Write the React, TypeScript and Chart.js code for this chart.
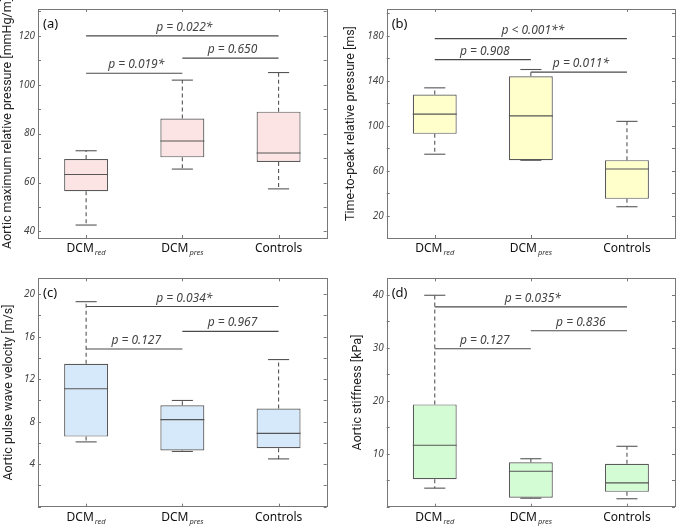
import React, { useEffect, useRef } from "react";
import { Chart, registerables } from "chart.js";
Chart.register(...registerables);

const categories = ["DCM", "DCM", "Controls"];
const categorySubscripts = ["red", "pres", ""];

// (a) Aortic maximum relative pressure
const aWhiskerLow = [42.6, 65.5, 57.4];
const aQ1 = [56.4, 70.3, 68.4];
const aMedian = [63.3, 77.0, 72.1];
const aQ3 = [69.6, 86.2, 89.0];
const aWhiskerHigh = [73.0, 101.9, 105.0];
const aTicks = [40, 60, 80, 100, 120];
const aMinorStep = 10;
const aRange = [37.3, 131];
const aPTexts = ["p = 0.022*", "p = 0.650", "p = 0.019*"];
const aPLevels = [120, 110.9, 104.7];
const aPFrom = [0, 1, 0];
const aPTo = [2, 2, 1];

// (b) Time-to-peak relative pressure
const bWhiskerLow = [74.9, 69.5, 28.2];
const bQ1 = [93.0, 69.6, 35.2];
const bMedian = [110.5, 109.0, 61.8];
const bQ3 = [128.0, 144.1, 69.6];
const bWhiskerHigh = [133.9, 150.2, 104.1];
const bTicks = [20, 60, 100, 140, 180];
const bMinorStep = 20;
const bRange = [0.4, 204];
const bPTexts = ["p < 0.001**", "p = 0.908", "p = 0.011*"];
const bPLevels = [177.7, 159.0, 147.9];
const bPFrom = [0, 0, 1];
const bPTo = [2, 1, 2];

// (c) Aortic pulse wave velocity
const cWhiskerLow = [6.1, 5.2, 4.5];
const cQ1 = [6.6, 5.3, 5.5];
const cMedian = [11.1, 8.2, 6.9];
const cQ3 = [13.45, 9.55, 9.25];
const cWhiskerHigh = [19.3, 10.0, 13.85];
const cTicks = [4, 8, 12, 16, 20];
const cMinorStep = 2;
const cRange = [0, 21.5];
const cPTexts = ["p = 0.034*", "p = 0.967", "p = 0.127"];
const cPLevels = [18.84, 16.5, 14.85];
const cPFrom = [0, 1, 0];
const cPTo = [2, 2, 1];

// (d) Aortic stiffness
const dWhiskerLow = [3.5, 1.6, 1.5];
const dQ1 = [5.2, 1.7, 2.8];
const dMedian = [11.6, 6.7, 4.5];
const dQ3 = [19.3, 8.4, 8.1];
const dWhiskerHigh = [39.9, 9.05, 11.4];
const dTicks = [10, 20, 30, 40];
const dMinorStep = 5;
const dRange = [0, 43.1];
const dPTexts = ["p = 0.035*", "p = 0.836", "p = 0.127"];
const dPLevels = [37.7, 33.2, 29.8];
const dPFrom = [0, 1, 0];
const dPTo = [2, 2, 1];

const FONT = "'Noto Sans', sans-serif";
const TITLE_FONT = "Roboto, 'Noto Sans', sans-serif";

type Panel = {
  label: string;
  title: string;
  fill: string;
  range: number[];
  ticks: number[];
  minorStep: number;
  lo: number[];
  q1: number[];
  med: number[];
  q3: number[];
  hi: number[];
  pTexts: string[];
  pLevels: number[];
  pFrom: number[];
  pTo: number[];
  pos: { left: number; top: number; w: number; h: number };
  yAxisWidth: number;
  padTop: number;
  padRight: number;
  xAxisHeight: number;
  titlePad: number;
};

const panels: Panel[] = [
  {
    label: "(a)", title: "Aortic maximum relative pressure [mmHg/m]", fill: "rgb(253,228,228)",
    range: aRange, ticks: aTicks, minorStep: aMinorStep,
    lo: aWhiskerLow, q1: aQ1, med: aMedian, q3: aQ3, hi: aWhiskerHigh,
    pTexts: aPTexts, pLevels: aPLevels, pFrom: aPFrom, pTo: aPTo,
    pos: { left: 0, top: 0, w: 338, h: 264 }, yAxisWidth: 38, padTop: 6, padRight: 11.3, xAxisHeight: 26, titlePad: 0,
  },
  {
    label: "(b)", title: "Time-to-peak relative pressure [ms]", fill: "rgb(255,255,204)",
    range: bRange, ticks: bTicks, minorStep: bMinorStep,
    lo: bWhiskerLow, q1: bQ1, med: bMedian, q3: bQ3, hi: bWhiskerHigh,
    pTexts: bPTexts, pLevels: bPLevels, pFrom: bPFrom, pTo: bPTo,
    pos: { left: 343, top: 0, w: 333, h: 264 }, yAxisWidth: 43.7, padTop: 6, padRight: 1, xAxisHeight: 26, titlePad: 0,
  },
  {
    label: "(c)", title: "Aortic pulse wave velocity [m/s]", fill: "rgb(214,233,251)",
    range: cRange, ticks: cTicks, minorStep: cMinorStep,
    lo: cWhiskerLow, q1: cQ1, med: cMedian, q3: cQ3, hi: cWhiskerHigh,
    pTexts: cPTexts, pLevels: cPLevels, pFrom: cPFrom, pTo: cPTo,
    pos: { left: 0, top: 264, w: 338, h: 263 }, yAxisWidth: 38, padTop: 14.3, padRight: 11.3, xAxisHeight: 20.3, titlePad: 1,
  },
  {
    label: "(d)", title: "Aortic stiffness [kPa]", fill: "rgb(212,252,212)",
    range: dRange, ticks: dTicks, minorStep: dMinorStep,
    lo: dWhiskerLow, q1: dQ1, med: dMedian, q3: dQ3, hi: dWhiskerHigh,
    pTexts: dPTexts, pLevels: dPLevels, pFrom: dPFrom, pTo: dPTo,
    pos: { left: 343, top: 264, w: 333, h: 263 }, yAxisWidth: 43.7, padTop: 14.3, padRight: 1, xAxisHeight: 20.3, titlePad: 7,
  },
];

function line(ctx: CanvasRenderingContext2D, x1: number, y1: number, x2: number, y2: number) {
  ctx.beginPath();
  ctx.moveTo(x1, y1);
  ctx.lineTo(x2, y2);
  ctx.stroke();
}

function makePlugin(p: Panel) {
  return {
    id: "boxDecor",
    afterDatasetsDraw(chart: any) {
      const { ctx, scales } = chart;
      const x = scales.x;
      const y = scales.y;
      const meta = chart.getDatasetMeta(0);
      ctx.save();
      ctx.strokeStyle = "#555";
      ctx.lineWidth = 1.1;
      for (let i = 0; i < categories.length; i++) {
        const el = meta.data[i];
        const cx = x.getPixelForValue(i);
        const half = el.width / 2;
        const capHalf = half * 0.48;
        const yLo = y.getPixelForValue(p.lo[i]);
        const yQ1 = y.getPixelForValue(p.q1[i]);
        const yMed = y.getPixelForValue(p.med[i]);
        const yQ3 = y.getPixelForValue(p.q3[i]);
        const yHi = y.getPixelForValue(p.hi[i]);
        ctx.setLineDash([4, 3]);
        line(ctx, cx, yQ3, cx, yHi);
        line(ctx, cx, yQ1, cx, yLo);
        ctx.setLineDash([]);
        line(ctx, cx - capHalf, yHi, cx + capHalf, yHi);
        line(ctx, cx - capHalf, yLo, cx + capHalf, yLo);
        line(ctx, cx - half, yMed, cx + half, yMed);
      }
      // significance brackets
      ctx.strokeStyle = "#4a4a4a";
      ctx.fillStyle = "#444";
      ctx.font = `italic 12px ${FONT}`;
      ctx.textAlign = "center";
      ctx.textBaseline = "alphabetic";
      for (let k = 0; k < p.pTexts.length; k++) {
        const x1 = x.getPixelForValue(p.pFrom[k]);
        const x2 = x.getPixelForValue(p.pTo[k]);
        const yy = y.getPixelForValue(p.pLevels[k]);
        line(ctx, x1, yy, x2, yy);
        ctx.fillText(p.pTexts[k], (x1 + x2) / 2 + 2, yy - 5);
      }
      ctx.restore();
    },
    afterDraw(chart: any) {
      const { ctx, chartArea, scales } = chart;
      const { left, right, top, bottom } = chartArea;
      const x = scales.x;
      const y = scales.y;
      ctx.save();
      // frame
      ctx.strokeStyle = "#777";
      ctx.lineWidth = 1;
      ctx.strokeRect(Math.round(left) + 0.5, Math.round(top) + 0.5, Math.round(right - left), Math.round(bottom - top));
      // y ticks (inside, both sides)
      const step = p.minorStep;
      const start = Math.ceil(p.range[0] / step) * step;
      for (let v = start; v <= p.range[1]; v += step) {
        const yy = Math.round(y.getPixelForValue(v)) + 0.5;
        line(ctx, left, yy, left + 3, yy);
        line(ctx, right - 3, yy, right, yy);
      }
      // x ticks (inside, top and bottom)
      for (let i = 0; i < categories.length; i++) {
        const xx = Math.round(x.getPixelForValue(i)) + 0.5;
        line(ctx, xx, bottom, xx, bottom - 3);
        line(ctx, xx, top, xx, top + 3);
      }
      // panel label
      ctx.fillStyle = "#111";
      ctx.font = `13px ${FONT}`;
      ctx.textAlign = "left";
      ctx.textBaseline = "alphabetic";
      ctx.fillText(p.label, left + 5, top + 18.5);
      // category labels with subscripts
      for (let i = 0; i < categories.length; i++) {
        const cx = x.getPixelForValue(i);
        ctx.font = `12px ${FONT}`;
        const w1 = ctx.measureText(categories[i]).width;
        ctx.font = `italic 7.5px ${FONT}`;
        const sub = categorySubscripts[i];
        const w2 = sub ? ctx.measureText(sub).width + 1 : 0;
        const sx = cx - (w1 + w2) / 2;
        ctx.fillStyle = "#111";
        ctx.font = `12px ${FONT}`;
        ctx.fillText(categories[i], sx, bottom + 14.3);
        if (sub) {
          ctx.fillStyle = "#333";
          ctx.font = `italic 7.5px ${FONT}`;
          ctx.fillText(sub, sx + w1 + 1, bottom + 17.3);
        }
      }
      ctx.restore();
    },
  };
}

function BoxPanel({ p }: { p: Panel }) {
  const ref = useRef<HTMLCanvasElement | null>(null);
  useEffect(() => {
    if (!ref.current) return;
    const chart = new Chart(ref.current, {
      type: "bar",
      data: {
        labels: categories.map((c, i) => c + categorySubscripts[i]),
        datasets: [
          {
            data: p.q1.map((v, i) => [v, p.q3[i]]) as any,
            backgroundColor: p.fill,
            borderColor: "#5a5a5a",
            borderWidth: 1.2,
            borderSkipped: false,
            barPercentage: 0.457,
            categoryPercentage: 1,
          },
        ],
      },
      options: {
        responsive: false,
        animation: false,
        devicePixelRatio: 1,
        layout: { padding: { left: 0, top: p.padTop, right: p.padRight, bottom: 0 } },
        plugins: { legend: { display: false }, tooltip: { enabled: false } },
        scales: {
          x: {
            type: "category",
            offset: true,
            grid: { display: false, drawTicks: false },
            border: { display: false },
            ticks: { display: false },
            afterFit: (s: any) => {
              s.height = p.xAxisHeight;
            },
          },
          y: {
            min: p.range[0],
            max: p.range[1],
            grid: { display: false, drawTicks: false },
            border: { display: false },
            afterBuildTicks: (s: any) => {
              s.ticks = p.ticks.map((v) => ({ value: v }));
            },
            afterFit: (s: any) => {
              s.width = p.yAxisWidth;
            },
            ticks: {
              padding: 3,
              color: "#444",
              font: { family: FONT, size: 10, style: "italic" },
              callback: (v: any) => String(v),
            },
            title: {
              display: true,
              text: p.title,
              color: "#222",
              font: { family: TITLE_FONT, size: 12.5 },
              padding: { top: p.titlePad, bottom: 0 },
            },
          },
        },
      },
      plugins: [makePlugin(p)],
    } as any);
    return () => chart.destroy();
  }, [p]);
  return (
    <canvas
      ref={ref}
      width={p.pos.w}
      height={p.pos.h}
      style={{ position: "absolute", left: p.pos.left, top: p.pos.top, width: p.pos.w, height: p.pos.h }}
    />
  );
}

export default function App() {
  return (
    <div style={{ position: "fixed", left: 0, top: 0, width: 676, height: 527, background: "#fff", overflow: "hidden" }}>
      {panels.map((p) => (
        <BoxPanel key={p.label} p={p} />
      ))}
    </div>
  );
}
